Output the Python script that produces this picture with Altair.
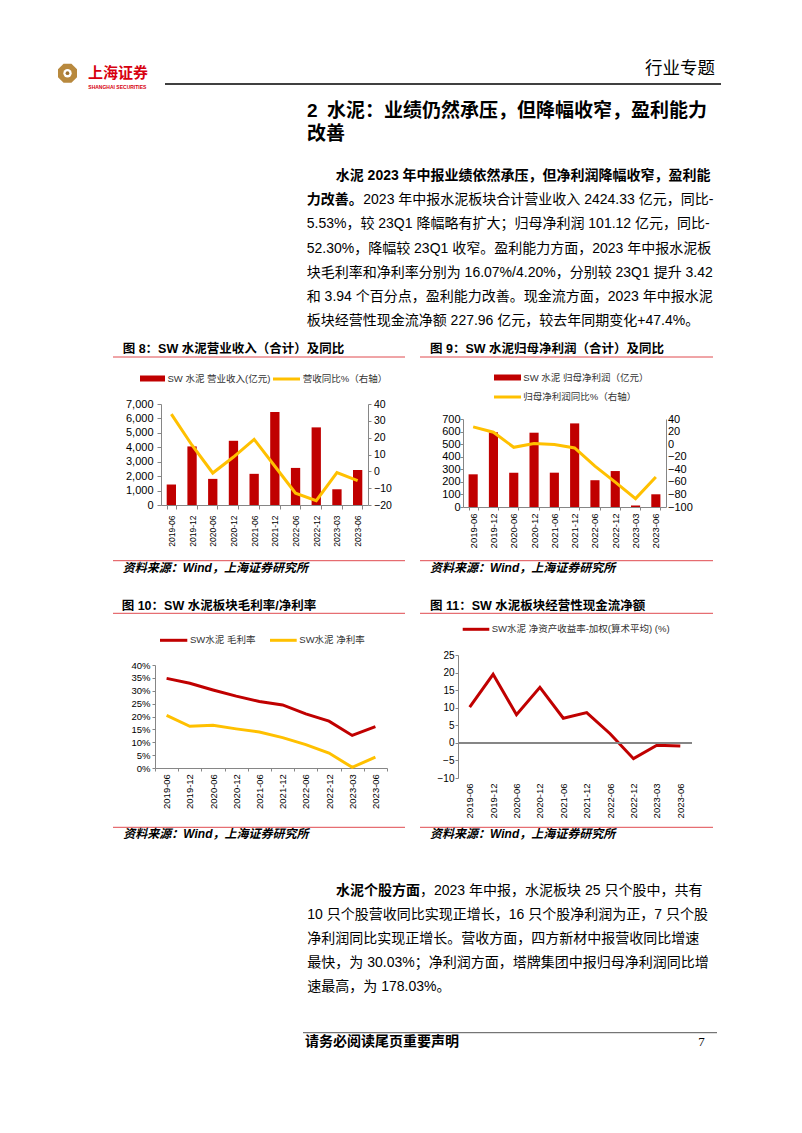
import altair as alt
import pandas as pd

# ---------------- data ----------------
periods = ["2019-06", "2019-12", "2020-06", "2020-12", "2021-06",
           "2021-12", "2022-06", "2022-12", "2023-03", "2023-06"]
revenue = [1420, 4060, 1810, 4450, 2160, 6440, 2570, 5380, 1090, 2424.33]
revenue_yoy = [34.0, 15.5, -1.0, 8.5, 19.0, 3.0, -13.0, -17.4, -0.7, -5.53]
profit = [260, 594, 273, 591, 273, 665, 213, 286, 12, 101.12]
profit_yoy = [27.5, 19.0, -5.0, 1.0, -0.5, -6.0, -35.0, -60.5, -86.7, -52.30]
gross_margin = [34.8, 32.9, 30.3, 27.9, 25.8, 24.5, 21.0, 18.2, 12.65, 16.07]
net_margin = [20.4, 16.2, 16.6, 15.2, 14.0, 11.8, 9.1, 5.8, 0.26, 4.20]
roe = [10.2, 19.5, 8.0, 15.8, 7.0, 8.6, 2.6, -4.5, -0.7, -0.9]

rev_ticks = [0, 1000, 2000, 3000, 4000, 5000, 6000, 7000]
rev_yoy_ticks = [-20, -10, 0, 10, 20, 30, 40]
prof_ticks = [0, 100, 200, 300, 400, 500, 600, 700]
prof_yoy_ticks = [-100, -80, -60, -40, -20, 0, 20, 40]
margin_ticks = [0, 5, 10, 15, 20, 25, 30, 35, 40]
roe_ticks = [-10, -5, 0, 5, 10, 15, 20, 25]

# ---------------- styles ----------------
FONT = "Liberation Sans, Noto Sans CJK SC"
RED = "#C00000"
YEL = "#FFC000"
PINK = "#E04A4F"
GRAY = "#868686"
OX, OY = 8, 8

one = pd.DataFrame({"k": [0]})


def text(s, x, y, size=14, weight="normal", color="#000000", align="left",
         style="normal", font=FONT):
    return alt.Chart(one).mark_text(
        text=s, align=align, baseline="middle", fontSize=size,
        fontWeight=weight, fontStyle=style, color=color, font=font
    ).encode(x=alt.value(x - OX), y=alt.value(y - OY))


def hline(x1, x2, y, color, width=1.0):
    return alt.Chart(one).mark_rule(color=color, strokeWidth=width).encode(
        x=alt.value(x1 - OX), x2=alt.value(x2 - OX), y=alt.value(y - OY))


def swatch_rect(x1, x2, y1, y2, color):
    return alt.Chart(one).mark_rect(color=color).encode(
        x=alt.value(x1 - OX), x2=alt.value(x2 - OX),
        y=alt.value(y1 - OY), y2=alt.value(y2 - OY))


def spacer(w, h):
    return alt.Chart(one).mark_point(opacity=0).properties(width=w, height=h)


OCT = ("M0.383,-0.924L0.924,-0.383L0.924,0.383L0.383,0.924L-0.383,0.924"
       "L-0.924,0.383L-0.924,-0.383L-0.383,-0.924Z")

layers = []
# logo & header
layers.append(alt.Chart(one).mark_point(shape=OCT, size=423, filled=True,
                                        color="#B8893E", opacity=1).encode(
    x=alt.value(67.5 - OX), y=alt.value(73.2 - OY)))
layers.append(alt.Chart(one).mark_point(shape="circle", size=70, filled=True,
                                        color="#FFFFFF", opacity=1).encode(
    x=alt.value(67.5 - OX), y=alt.value(73.2 - OY)))
layers.append(alt.Chart(one).mark_point(shape="circle", size=14, filled=True,
                                        color="#9C7030", opacity=1).encode(
    x=alt.value(67.5 - OX), y=alt.value(73.2 - OY)))
layers.append(text("上海证券", 88, 73.3, size=15, weight="bold", color="#D7000F"))
layers.append(text("SHANGHAI SECURITIES", 88.3, 87, size=5, weight="bold", color="#D7000F"))
layers.append(text("行业专题", 715, 69, size=17.5, align="right"))
layers.append(hline(165, 721, 84, "#000000", 1.5))

# section title
layers.append(text("2", 307, 110.8, size=19, weight="bold"))
layers.append(text("水泥：业绩仍然承压，但降幅收窄，盈利能力", 327, 110.8, size=19, weight="bold"))
layers.append(text("改善", 307, 133.7, size=19, weight="bold"))

# paragraph 1
y0, dy = 176.2, 24.1
layers.append(text("水泥 2023 年中报业绩依然承压，但净利润降幅收窄，盈利能", 335.7, y0, weight="bold"))
layers.append(text("力改善。", 306.7, y0 + dy, weight="bold"))
layers.append(text("2023 年中报水泥板块合计营业收入 2424.33 亿元，同比-", 363.3, y0 + dy))
para1 = [
    "5.53%，较 23Q1 降幅略有扩大；归母净利润 101.12 亿元，同比-",
    "52.30%，降幅较 23Q1 收窄。盈利能力方面，2023 年中报水泥板",
    "块毛利率和净利率分别为 16.07%/4.20%，分别较 23Q1 提升 3.42",
    "和 3.94 个百分点，盈利能力改善。现金流方面，2023 年中报水泥",
    "板块经营性现金流净额 227.96 亿元，较去年同期变化+47.4%。",
]
for i, s in enumerate(para1):
    layers.append(text(s, 306.7, y0 + dy * (i + 2)))

# figure headers / footers
layers.append(text("图 8：SW 水泥营业收入（合计）及同比", 122.7, 349.3, size=12.5, weight="bold"))
layers.append(hline(113, 405, 357, PINK, 1))
layers.append(text("图 9：SW 水泥归母净利润（合计）及同比", 430, 349.3, size=12.5, weight="bold"))
layers.append(hline(420, 713, 357, PINK, 1))
layers.append(hline(113, 405, 560.7, PINK, 1))
layers.append(hline(420, 713, 560.7, PINK, 1))
layers.append(text("资料来源：Wind，上海证券研究所", 122.7, 567.5, size=12, weight="bold", style="italic"))
layers.append(text("资料来源：Wind，上海证券研究所", 430, 567.5, size=12, weight="bold", style="italic"))

layers.append(text("图 10：SW 水泥板块毛利率/净利率", 121.7, 606, size=12.5, weight="bold"))
layers.append(hline(113, 405, 613.3, PINK, 1))
layers.append(text("图 11：SW 水泥板块经营性现金流净额", 430, 606, size=12.5, weight="bold"))
layers.append(hline(420, 713, 613.3, PINK, 1))
layers.append(hline(113, 405, 827.3, PINK, 1))
layers.append(hline(420, 713, 827.3, PINK, 1))
layers.append(text("资料来源：Wind，上海证券研究所", 123.3, 834.3, size=12, weight="bold", style="italic"))
layers.append(text("资料来源：Wind，上海证券研究所", 430, 834.3, size=12, weight="bold", style="italic"))

# legends
LEG = "#333333"
layers.append(swatch_rect(140, 165, 375.5, 381.5, RED))
layers.append(text("SW 水泥 营业收入(亿元)", 167.5, 379, size=9.5, color=LEG))
layers.append(hline(273, 300, 379, YEL, 3))
layers.append(text("营收同比%（右轴）", 302.7, 379, size=9.5, color=LEG))

layers.append(swatch_rect(494, 521, 374.5, 380.5, RED))
layers.append(text("SW 水泥 归母净利润（亿元）", 523.3, 378, size=9.5, color=LEG))
layers.append(hline(494, 521, 397, YEL, 3))
layers.append(text("归母净利润同比%（右轴）", 523.3, 397, size=9.5, color=LEG))

layers.append(hline(160, 187.3, 640.3, RED, 3))
layers.append(text("SW水泥 毛利率", 190, 640.3, size=9.5, color=LEG))
layers.append(hline(270, 296.7, 640.3, YEL, 3))
layers.append(text("SW水泥 净利率", 299.3, 640.3, size=9.5, color=LEG))

layers.append(hline(462.7, 489.3, 629.3, RED, 3))
layers.append(text("SW水泥 净资产收益率-加权(算术平均) (%)", 491.7, 629.3, size=9.5, color=LEG))

# paragraph 2
y1 = 890.5
layers.append(text("水泥个股方面", 336, y1, weight="bold"))
layers.append(text("，2023 年中报，水泥板块 25 只个股中，共有", 420, y1))
para2 = [
    "10 只个股营收同比实现正增长，16 只个股净利润为正，7 只个股",
    "净利润同比实现正增长。营收方面，四方新材中报营收同比增速",
    "最快，为 30.03%；净利润方面，塔牌集团中报归母净利润同比增",
    "速最高，为 178.03%。",
]
for i, s in enumerate(para2):
    layers.append(text(s, 307.3, y1 + 24.05 * (i + 1)))

# footer
layers.append(hline(303, 717, 1032.7, "#555555", 1))
layers.append(text("请务必阅读尾页重要声明", 305, 1041.7, size=14, weight="bold"))
layers.append(text("7", 698.3, 1041.7, size=13, font="Liberation Serif"))

page_layer = alt.layer(*layers).properties(width=720, height=396)

# ---------------- charts ----------------
df = pd.DataFrame({
    "period": periods, "revenue": revenue, "revenue_yoy": revenue_yoy,
    "profit": profit, "profit_yoy": profit_yoy,
    "gross": gross_margin, "net": net_margin, "roe": roe,
})


def x_band(label_size, tick, pad):
    return alt.X("period:N", sort=periods,
                 scale=alt.Scale(paddingInner=0.55, paddingOuter=0.275),
                 axis=alt.Axis(title=None, labelAngle=-90, labelFontSize=label_size,
                               tickBand="extent", tickSize=tick, labelPadding=pad,
                               labelOverlap=False))


# chart 8
bars8 = alt.Chart(df).mark_bar(color=RED).encode(
    x=x_band(8.5, 4, 6),
    y=alt.Y("revenue:Q", scale=alt.Scale(domain=[0, 7000], nice=False),
            axis=alt.Axis(title=None, values=rev_ticks, format=",.0f", labelFontSize=11,
                          tickSize=4, labelPadding=4, labelOverlap=False)))
line8 = alt.Chart(df).mark_line(color=YEL, strokeWidth=3).encode(
    x=alt.X("period:N", sort=periods),
    y=alt.Y("revenue_yoy:Q", scale=alt.Scale(domain=[-20, 40], nice=False),
            axis=alt.Axis(title=None, orient="right", values=rev_yoy_ticks,
                          labelFontSize=10.5, tickSize=3, labelPadding=2.5,
                          labelOverlap=False)))
c8 = alt.layer(bars8, line8).resolve_scale(y="independent").properties(width=207, height=101)

# chart 9
bars9 = alt.Chart(df).mark_bar(color=RED).encode(
    x=x_band(9.5, 3, 3),
    y=alt.Y("profit:Q", scale=alt.Scale(domain=[0, 700], nice=False),
            axis=alt.Axis(title=None, values=prof_ticks, labelFontSize=11,
                          tickSize=3, labelPadding=0, labelOverlap=False)))
line9 = alt.Chart(df).mark_line(color=YEL, strokeWidth=3).encode(
    x=alt.X("period:N", sort=periods),
    y=alt.Y("profit_yoy:Q", scale=alt.Scale(domain=[-100, 40], nice=False),
            axis=alt.Axis(title=None, orient="right", values=prof_yoy_ticks,
                          labelFontSize=11, ticks=False, labelPadding=1.5,
                          labelOverlap=False)))
c9 = alt.layer(bars9, line9).resolve_scale(y="independent").properties(width=203, height=88)

# chart 10
x_pt10 = alt.X("period:N", sort=periods,
               axis=alt.Axis(title=None, labelAngle=-90, labelFontSize=9.5,
                             tickBand="extent", tickSize=3, labelPadding=2.6,
                             labelOverlap=False))
scale10 = alt.Scale(domain=[0, 40], nice=False)
axis10 = alt.Axis(title=None, values=margin_ticks, labelExpr="datum.value + '%'",
                  labelFontSize=9.5, tickSize=3, labelPadding=2, labelOverlap=False)
g10 = alt.Chart(df).mark_line(color=RED, strokeWidth=3).encode(
    x=x_pt10, y=alt.Y("gross:Q", scale=scale10, axis=axis10))
n10 = alt.Chart(df).mark_line(color=YEL, strokeWidth=3).encode(
    x=x_pt10, y=alt.Y("net:Q", scale=scale10, axis=axis10))
c10 = alt.layer(g10, n10).properties(width=232, height=103)

# chart 11
x_pt11 = alt.X("period:N", sort=periods,
               axis=alt.Axis(title=None, labelAngle=-90, labelFontSize=9.5,
                             domain=False, ticks=False, labelPadding=5,
                             labelOverlap=False))
scale11 = alt.Scale(domain=[-10, 25], nice=False)
axis11 = alt.Axis(title=None, values=roe_ticks, labelFontSize=10,
                  tickSize=3, labelPadding=1, labelOverlap=False)
l11 = alt.Chart(df).mark_line(color=RED, strokeWidth=3).encode(
    x=x_pt11, y=alt.Y("roe:Q", scale=scale11, axis=axis11))
zero11 = alt.Chart(df).mark_rule(color=GRAY, strokeWidth=1).encode(
    y=alt.Y(datum=0, type="quantitative", scale=scale11, axis=axis11))
c11 = alt.layer(l11, zero11).properties(width=234, height=123)

# ---------------- layout ----------------
# With flush bounds, nested concat groups take no room in their parent's
# layout, so the spacers that follow them carry the needed offsets.
cell9 = alt.vconcat(spacer(203, 15), c9, spacing=0, bounds="flush")
rowA = alt.hconcat(spacer(153, 1), c8, spacer(95, 1), cell9, spacing=0, bounds="flush")
cell10 = alt.vconcat(spacer(232, 10), c10, spacing=0, bounds="flush")
rowB = alt.hconcat(spacer(147, 1), cell10, spacer(232 + 71, 1), c11, spacing=0, bounds="flush")

chart = alt.vconcat(page_layer, rowA, spacer(10, 251), rowB, spacing=0, bounds="flush").properties(
    padding=0, background="#FFFFFF"
).configure_view(strokeWidth=0).configure_axis(
    labelFont=FONT, labelColor="#000000", domainColor=GRAY, tickColor=GRAY, grid=False,
    labelOverlap=False
)

chart.save("out.html", embed_options={"renderer": "svg", "actions": False})
